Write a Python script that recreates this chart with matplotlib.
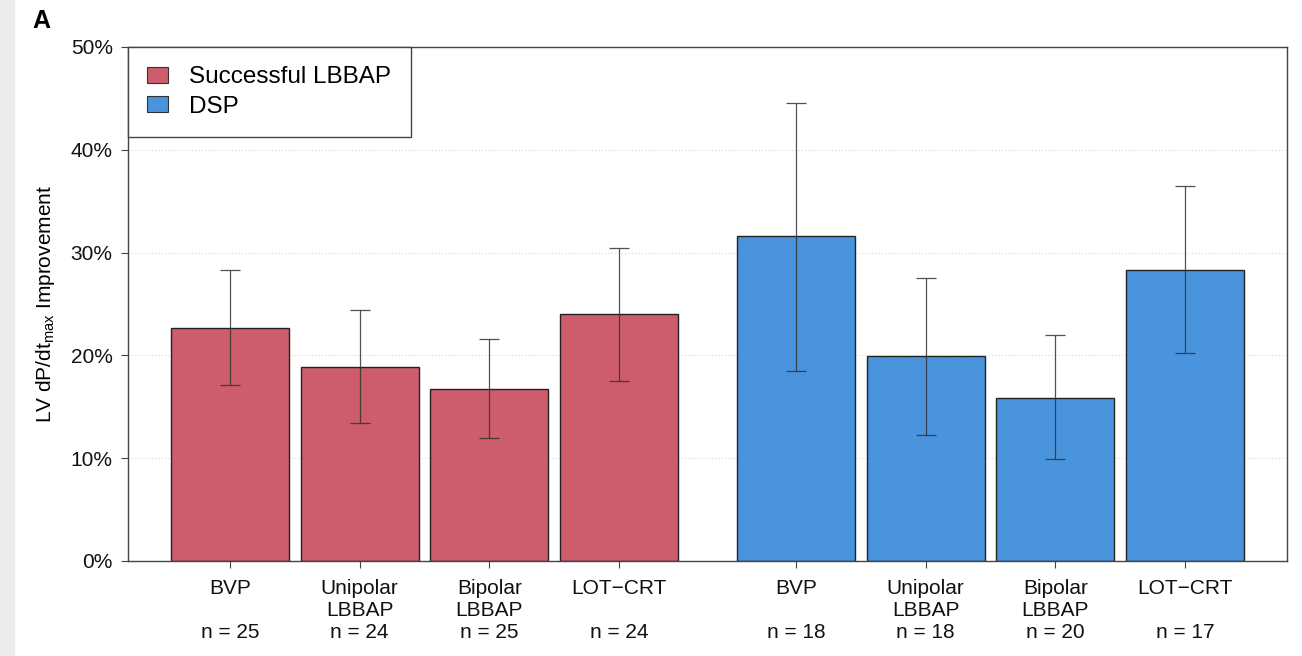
import numpy as np
import matplotlib
matplotlib.use("Agg")
import matplotlib.pyplot as plt
from matplotlib.patches import Rectangle, Patch

plt.rcParams['font.family'] = ['Liberation Sans', 'DejaVu Sans']
plt.rcParams['mathtext.fontset'] = 'custom'
plt.rcParams['mathtext.rm'] = 'Liberation Sans'
plt.rcParams['mathtext.it'] = 'Liberation Sans:italic'

# 데이터
methods = ['BVP', 'Unipolar\nLBBAP', 'Bipolar\nLBBAP', 'LOT\u2212CRT']
groups = ['Successful LBBAP', 'DSP']

lbbap_mean = [22.7, 18.9, 16.7, 24.0]
lbbap_low = [17.1, 13.4, 12.0, 17.5]
lbbap_high = [28.3, 24.4, 21.6, 30.4]
lbbap_n = [25, 24, 25, 24]

dsp_mean = [31.6, 19.9, 15.9, 28.3]
dsp_low = [18.5, 12.3, 9.9, 20.2]
dsp_high = [44.6, 27.5, 22.0, 36.5]
dsp_n = [18, 18, 20, 17]

colors = ['#CD5C6C', '#4A94DE']

# 막대 위치 (R barplot 스타일: 폭 1, 간격 0.1, 그룹 간격 0.5)
pos1 = np.arange(4) * 1.1
pos2 = pos1[-1] + 1.5 + np.arange(4) * 1.1

fig = plt.figure(figsize=(13.02, 6.56), dpi=100)
fig.patches.append(Rectangle((0, 0), 14 / 1302, 1, transform=fig.transFigure,
                             color='#ececec', zorder=0))
ax = fig.add_axes([128 / 1302, 1 - 561 / 656, (1287 - 128) / 1302, (561 - 47) / 656])

for pos, mean, low, high, c in [(pos1, lbbap_mean, lbbap_low, lbbap_high, colors[0]),
                                (pos2, dsp_mean, dsp_low, dsp_high, colors[1])]:
    mean = np.array(mean)
    yerr = [mean - np.array(low), np.array(high) - mean]
    ax.bar(pos, mean, width=1.0, color=c, edgecolor='#222222', linewidth=1.0, zorder=2)
    ax.errorbar(pos, mean, yerr=yerr, fmt='none', ecolor='#333333', elinewidth=0.9,
                capsize=7, capthick=0.9, alpha=0.85, zorder=3)

ax.set_xlim(-0.864, 8.964)
ax.set_ylim(0, 50)
ax.set_yticks([0, 10, 20, 30, 40, 50])
ax.set_yticklabels([f'{v}%' for v in [0, 10, 20, 30, 40, 50]])
ax.grid(axis='y', linestyle=(0, (1, 2)), color='#d8d8d8', linewidth=0.8)
ax.set_axisbelow(True)

xt = np.concatenate([pos1, pos2])
labels = []
for m, n in zip(methods * 2, lbbap_n + dsp_n):
    if '\n' not in m:
        m = m + '\n '
    labels.append(f'{m}\nn = {n}')
ax.set_xticks(xt)
ax.set_xticklabels(labels, fontsize=15, linespacing=1.2)

for s in ax.spines.values():
    s.set_color('#444444')
    s.set_linewidth(1.0)
ax.tick_params(axis='both', direction='out', length=5, width=0.8, color='#444444',
               labelsize=15, labelcolor='#111111')
ax.tick_params(axis='x', pad=8)
ax.tick_params(axis='y', pad=6)

ax.set_ylabel('LV dP/dt$_{\\mathrm{max}}$ Improvement', fontsize=15, labelpad=10)

handles = [Patch(facecolor=colors[0], edgecolor='#333333', linewidth=0.8),
           Patch(facecolor=colors[1], edgecolor='#333333', linewidth=0.8)]
leg = ax.legend(handles, groups, loc='upper left', bbox_to_anchor=(0, 1), borderaxespad=0,
                fontsize=17.5, frameon=True, fancybox=False, edgecolor='#444444', framealpha=1,
                handlelength=0.83, handleheight=0.66, handletextpad=0.9, borderpad=0.8,
                labelspacing=0.3)
leg.get_frame().set_linewidth(1.0)

fig.text(32 / 1302, 1 - 9 / 656, 'A', fontsize=18, fontweight='bold', va='top', ha='left')

plt.savefig('out.png', dpi=100)
